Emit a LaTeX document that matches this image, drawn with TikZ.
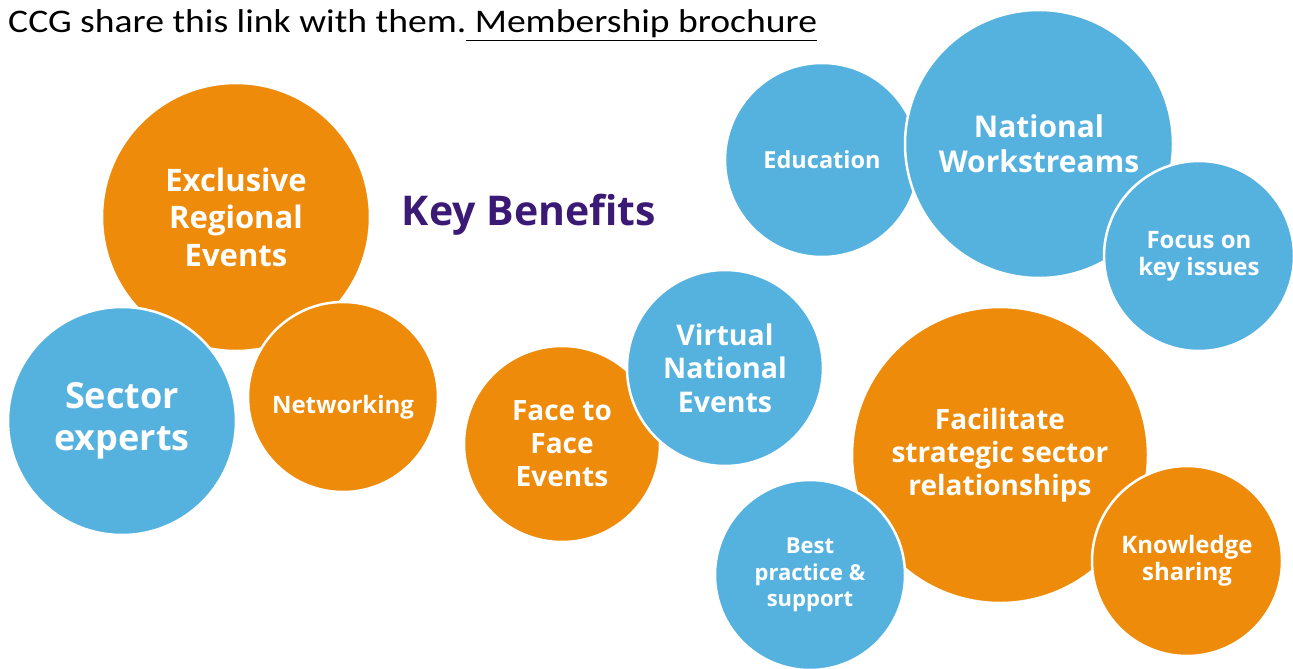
\documentclass[tikz,border=0pt]{standalone}
\usepackage{fontspec}
\setmainfont{Open Sans}
\newfontfamily\headfont[FakeStretch=1.14]{Carlito}
\usepackage[dvipsnames]{xcolor}
\definecolor{bubbleorange}{HTML}{EE8B0A}
\definecolor{bubbleblue}{HTML}{55B2DF}
\definecolor{keypurple}{HTML}{3B1A75}
\newcommand{\fsz}[2]{\fontsize{#1}{#2}\selectfont}

\begin{document}
\begin{tikzpicture}[x=1pt,y=-1pt,bubble/.style={circle,draw=white,line width=2.5pt,inner sep=0pt,align=center,text=white},orange node/.style={bubble,fill=bubbleorange},blue node/.style={bubble,fill=bubbleblue}]
    \useasboundingbox (0,0) rectangle (1293,669);
    \node[anchor=base west,inner sep=0pt,font=\headfont\fsz{33}{38}] (head) at (8,33) {CCG share this link with them.\underline{ Membership brochure}};

    \node[orange node,minimum size=268pt,font=\bfseries\fsz{31}{37.5}] (excl) at (236,217) {Exclusive\\Regional\\Events};
    \node[blue node,minimum size=228pt,font=\bfseries\fsz{36}{42}] (sector) at (122,421) {Sector\\experts};
    \node[orange node,minimum size=190pt,font=\bfseries\fsz{24}{28}] (netw) at (343,397) {\raisebox{-16pt}[0pt][0pt]{Networking}};

    \node[text=keypurple,font=\bfseries\fsz{41}{48}] (key) at (529,215) {Key Benefits};

    \node[blue node,minimum size=194pt,font=\bfseries\fsz{23.5}{28}] (edu) at (822,160) {Education};
    \node[blue node,minimum size=268pt,font=\bfseries\fsz{30}{35}] (natl) at (1039,144) {National\\Workstreams};
    \node[blue node,minimum size=190pt,font=\bfseries\fsz{24}{27}] (focus) at (1199,256) {Focus on\\key issues};

    \node[orange node,minimum size=196pt,font=\bfseries\fsz{28}{33}] (face) at (562,444) {Face to\\Face\\Events};
    \node[blue node,minimum size=196pt,font=\bfseries\fsz{28.5}{33.5}] (virt) at (725,368) {Virtual\\National\\Events};

    \node[orange node,minimum size=296pt,font=\bfseries\fsz{28}{33}] (facil) at (1000,455) {Facilitate\\strategic sector\\relationships};
    \node[blue node,minimum size=190pt,font=\bfseries\fsz{22}{26.5}] (best) at (810,575) {Best\\practice \&\\support};
    \node[orange node,minimum size=190pt,font=\bfseries\fsz{24}{27}] (know) at (1187,561) {Knowledge\\sharing};
\end{tikzpicture}
\end{document}
